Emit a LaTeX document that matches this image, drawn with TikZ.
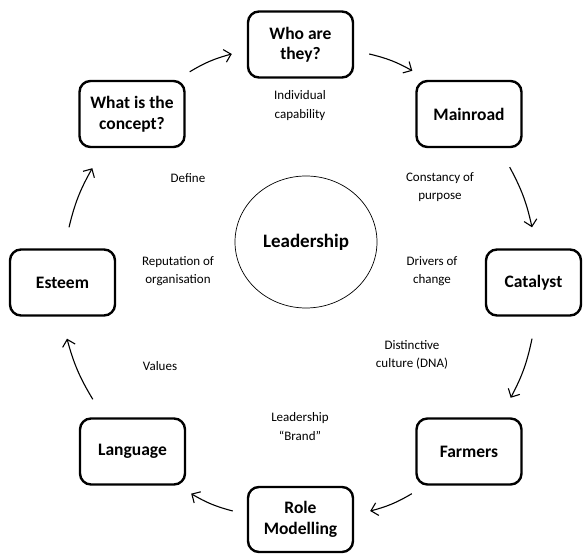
\documentclass[tikz,border=0pt]{standalone}
\usepackage{fontspec}
\setmainfont{Carlito}
\usetikzlibrary{arrows.meta,shapes.geometric}

\begin{document}
\begin{tikzpicture}[x=1pt,y=1pt,>={Straight Barb[length=6.5pt,width=13pt]}]
        \tikzset{block/.style= {draw, rectangle, rounded corners=11pt, line width=2.4pt, align=center,
            minimum width=105pt, minimum height=66pt, inner sep=2pt,
            font=\fontsize{17.5}{20.5}\selectfont\bfseries},
        lbl/.style={align=center, inner sep=1pt, font=\fontsize{13}{18.5}\selectfont},
        hub/.style={draw, ellipse, line width=0.7pt, minimum width=142pt, minimum height=132pt,
            font=\fontsize{19}{22}\selectfont\bfseries},
        }
        \useasboundingbox (0,0) rectangle (584,554);
        \node[block] (who) at (300.5,509.5) {Who are\\they?};
        \node[block] (concept) at (132,440) {What is the\\concept?};
        \node[block] (mainroad) at (469,440) {Mainroad};
        \node[block] (esteem) at (62.5,271.5) {Esteem};
        \node[block, minimum width=95pt] (catalyst) at (533.5,271.5) {Catalyst};
        \node[block] (language) at (132.5,102.5) {Language};
        \node[block] (farmers) at (469,102.5) {Farmers};
        \node[block, minimum height=65pt] (role) at (300.5,34.5) {Role\\Modelling};
        \node[hub] (lead) at (306,312) {Leadership};

%% labels
        \node[lbl] (indiv) at (300,448.5) {Individual\\capability};
        \node[lbl] (define) at (188,376) {Define};
        \node[lbl] (purpose) at (440,367) {Constancy of\\purpose};
        \node[lbl] (reput) at (178,283) {Reputation of\\organisation};
        \node[lbl] (drivers) at (432,283) {Drivers of\\change};
        \node[lbl] (values) at (160,188) {Values};
        \node[lbl] (dna) at (412,199) {Distinctive\\culture (DNA)};
        \node[lbl] (brand) at (300,127.5) {Leadership\\“Brand”};

%% paths
        \path[->,line width=1.1pt]
            ([shift={(4,8)}]concept.north east) edge[bend left=8] ([shift={(-15,-9.5)}]who.west)
            ([shift={(15,-9.5)}]who.east) edge[bend left=8] ([shift={(-3,9)}]mainroad.north west)
            ([shift={(-13,-19)}]mainroad.south east) edge[bend left=8] ([shift={(-1.5,21)}]catalyst.north)
            ([shift={(-1.5,-22)}]catalyst.south) edge[bend left=8] ([shift={(-12,19.5)}]farmers.north east)
            ([shift={(-3.5,-8)}]farmers.south west) edge[bend left=8] ([shift={(16,8.5)}]role.east)
            ([shift={(-14,8.5)}]role.west) edge[bend left=8] ([shift={(5,-8)}]language.south east)
            ([shift={(14,18)}]language.north west) edge[bend left=8] ([shift={(4.5,-22)}]esteem.south)
            ([shift={(6.5,21)}]esteem.north) edge[bend left=8] ([shift={(14,-20)}]concept.south west)
            ;
\end{tikzpicture}
\end{document}
